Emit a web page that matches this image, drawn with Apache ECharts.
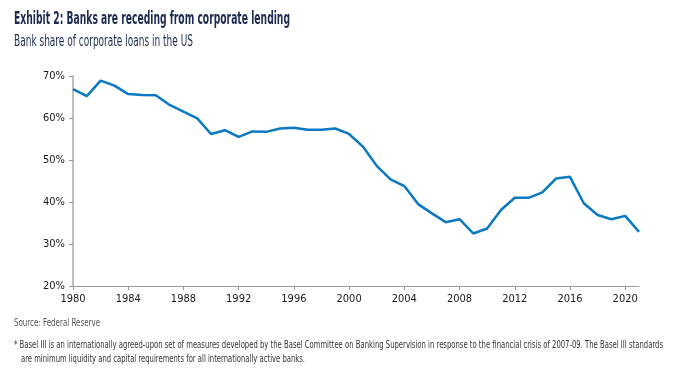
<!DOCTYPE html>
<html><head><meta charset="utf-8">
<script src="https://cdn.jsdelivr.net/npm/echarts@6/dist/echarts.min.js"></script>
<style>html,body{margin:0;padding:0;background:#fff}#c{width:690px;height:374px}</style>
</head><body><div id="c"></div>
<script>
var years = [];
for (var y = 1980; y <= 2021; y++) years.push(String(y));
var bankShare = [66.9,65.2,68.9,67.7,65.7,65.5,65.4,63.1,61.5,59.9,
  56.2,57.1,55.5,56.8,56.7,57.5,57.7,57.2,57.2,57.5,
  56.2,53.2,48.6,45.4,43.8,39.5,37.3,35.2,35.9,32.5,
  33.7,38.1,41.0,41.0,42.3,45.6,46.0,39.7,36.9,35.9,36.7,32.9];
var yTicks = [20,30,40,50,60,70];

var FONT = '"Liberation Sans Narrow","DejaVu Sans Condensed",sans-serif';
var cv = document.createElement('canvas').getContext('2d');
function fitText(txt, font, target) {
  cv.font = font;
  var w = cv.measureText(txt).width;
  return w > 0 ? target / w : 1;
}
function label(txt, x, y, size, weight, color, target) {
  var font = weight + ' ' + size + 'px ' + FONT;
  return {
    type: 'text', left: x, top: y, scaleX: fitText(txt, font, target), scaleY: 1,
    style: { text: txt, font: font, fill: color }
  };
}
var texts = [
  ['Exhibit 2: Banks are receding from corporate lending', 14, 11, 17, 'bold', '#1b2a4e', 276],
  ['Bank share of corporate loans in the US', 14, 35, 15, 'normal', '#1b2a4e', 179],
  ['Source: Federal Reserve', 14, 318, 10, 'normal', '#555', 86],
  ['* Basel III is an internationally agreed-upon set of measures developed by the Basel Committee on Banking Supervision in response to the financial crisis of 2007-09. The Basel III standards', 14, 340, 10, 'normal', '#333', 649],
  ['are minimum liquidity and capital requirements for all internationally active banks.', 21, 354, 10, 'normal', '#333', 284]
];

var chart = echarts.init(document.getElementById('c'), null, {renderer: 'canvas'});
chart.setOption({
  animation: false,
  backgroundColor: '#fff',
  grid: { left: 73, right: 51, top: 76, bottom: 88, containLabel: false },
  xAxis: {
    type: 'category', data: years, boundaryGap: false,
    axisLine: { lineStyle: { color: '#999', width: 1 } },
    axisTick: { interval: 3, length: 4, lineStyle: { color: '#999' } },
    axisLabel: { interval: 3, color: '#1a1a1a', fontSize: 11, fontFamily: FONT, margin: 8 },
    splitLine: { show: false }
  },
  yAxis: {
    type: 'value', min: yTicks[0], max: yTicks[yTicks.length - 1], interval: 10,
    axisLine: { show: true, lineStyle: { color: '#aaa', width: 1.5 } },
    axisTick: { show: true, length: 4, lineStyle: { color: '#999' } },
    axisLabel: { formatter: '{value}%', color: '#1a1a1a', fontSize: 11, fontFamily: FONT, margin: 8 },
    splitLine: { show: false }
  },
  series: [{
    type: 'line', data: bankShare, symbol: 'none',
    lineStyle: { color: '#0a78c2', width: 2.5 }
  }],
  graphic: texts.map(function (t) { return label.apply(null, t); })
});
</script></body></html>
